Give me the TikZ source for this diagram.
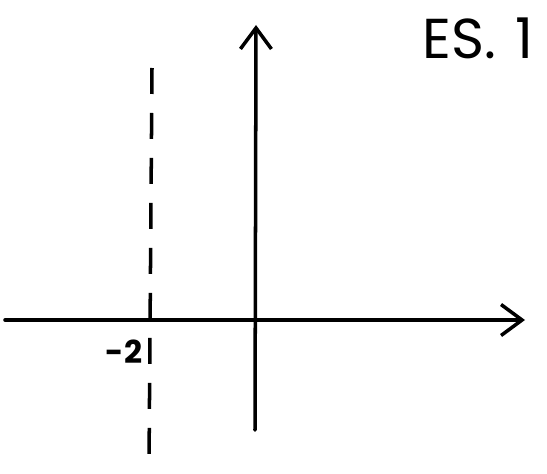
\documentclass[tikz,border=0pt]{standalone}
\usepackage{fontspec}
\setsansfont{Poppins}
\usetikzlibrary{arrows.meta, positioning}

\tikzset{
    axisline/.style={line width=2pt, line cap=round,
        -{Straight Barb[length=0.42cm, width=0.62cm, line width=2pt]}},
    asymptote/.style={line width=2pt, dash pattern=on 0.52cm off 0.38cm},
    sketchlabel/.style={font=\sffamily, inner sep=0pt}
}

\begin{document}
\begin{tikzpicture}[x=0.02cm, y=-0.02cm]
    \useasboundingbox (0,0) rectangle (547,473);

    % Axes
    \coordinate (xfrom) at (5,320);
    \coordinate (xto) at (525,320);
    \coordinate (yfrom) at (255,430);
    \coordinate (yto) at (256,25);
    \draw[axisline] (xfrom) -- (xto);
    \draw[axisline] (yfrom) -- (yto);

    % Vertical line at x = -2
    \coordinate (vtop) at (152,68);
    \coordinate (vbot) at (149,465);
    \draw[asymptote] (vtop) -- (vbot);
    \node[sketchlabel, font=\sffamily\bfseries\fontsize{18}{18}\selectfont] (xlabel) at (124,352) {-2};

    % Title
    \node[sketchlabel, font=\sffamily\fontsize{32}{32}\selectfont] (title) at (478,38) {ES.\,\,1};
\end{tikzpicture}
\end{document}
